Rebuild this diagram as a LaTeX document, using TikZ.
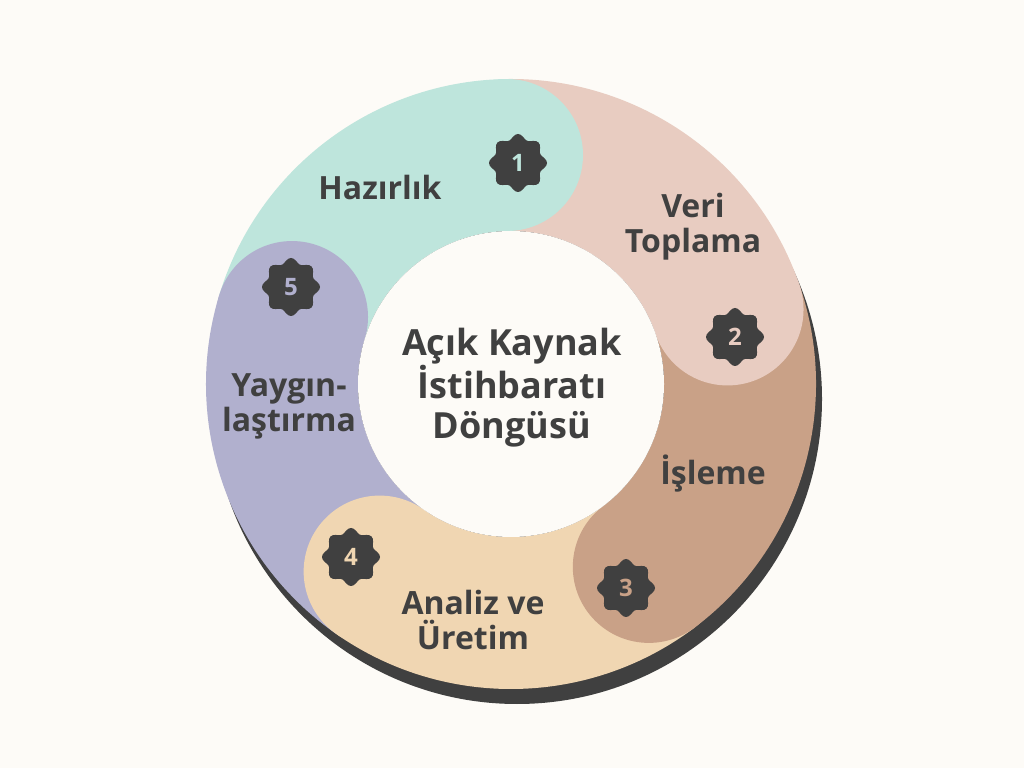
\documentclass[tikz,border=0pt]{standalone}
\usepackage{fontspec}
\setmainfont{Open Sans}
\definecolor{bgcol}{HTML}{FDFBF7}
\definecolor{mint}{HTML}{BEE5DC}
\definecolor{rose}{HTML}{E8CCC1}
\definecolor{clay}{HTML}{C9A187}
\definecolor{sand}{HTML}{F0D6B2}
\definecolor{lilac}{HTML}{B1B0CE}
\definecolor{ink}{HTML}{404040}
\tikzset{
	lbl/.style={text=ink, font=\bfseries\fontsize{32}{35}\selectfont, align=center, inner sep=0pt},
	ttl/.style={text=ink, font=\bfseries\fontsize{36}{40}\selectfont, align=center, inner sep=0pt},
	num/.style={font=\bfseries\fontsize{24}{24}\selectfont, inner sep=0pt},
	seal/.style={fill=ink},
}
\begin{document}
\begin{tikzpicture}[x=1pt,y=1pt]
	\fill[bgcol] (0,0) rectangle (1024,768);
	\useasboundingbox (0,0) rectangle (1024,768);
	\coordinate (O) at (511,384);
	% shadow
	\fill[ink] ([shift={(6,-15)}]O) circle[radius=305];
	% ring
	\begin{scope}[shift={(O)}]
		\fill[mint] (163:305) arc[start angle=163, end angle=91, radius=305] -- (91:153) arc[start angle=91, end angle=163, radius=153] -- cycle;
		\fill[rose] (91:305) arc[start angle=91, end angle=19, radius=305] -- (19:153) arc[start angle=19, end angle=91, radius=153] -- cycle;
		\fill[clay] (19:305) arc[start angle=19, end angle=-53, radius=305] -- (-53:153) arc[start angle=-53, end angle=19, radius=153] -- cycle;
		\fill[sand] (-53:305) arc[start angle=-53, end angle=-125, radius=305] -- (-125:153) arc[start angle=-125, end angle=-53, radius=153] -- cycle;
		\fill[lilac] (-125:305) arc[start angle=-125, end angle=-197, radius=305] -- (-197:153) arc[start angle=-197, end angle=-125, radius=153] -- cycle;
		% heads
		\fill[mint] (91:229) circle[radius=76];
		\fill[rose] (19:229) circle[radius=76];
		\fill[clay] (-53:229) circle[radius=76];
		\fill[sand] (-125:229) circle[radius=76];
		\fill[lilac] (163:229) circle[radius=76];
		\fill[bgcol] (0,0) circle[radius=153];
	\end{scope}
	% badges
	\fill[seal,shift={(518,605)}] plot[domain=0:355,samples=72,smooth cycle] (\x:{26.5+2.5*cos(8*\x)});
	\fill[seal,shift={(735,431)}] plot[domain=0:355,samples=72,smooth cycle] (\x:{26.5+2.5*cos(8*\x)});
	\fill[seal,shift={(626,180)}] plot[domain=0:355,samples=72,smooth cycle] (\x:{26.5+2.5*cos(8*\x)});
	\fill[seal,shift={(351,211)}] plot[domain=0:355,samples=72,smooth cycle] (\x:{26.5+2.5*cos(8*\x)});
	\fill[seal,shift={(291,481)}] plot[domain=0:355,samples=72,smooth cycle] (\x:{26.5+2.5*cos(8*\x)});
	\node[num,text=mint] (n1) at (518,605) {1};
	\node[num,text=rose] (n2) at (735,431) {2};
	\node[num,text=clay] (n3) at (626,180) {3};
	\node[num,text=sand] (n4) at (351,211) {4};
	\node[num,text=lilac] (n5) at (291,481) {5};
	% labels
	\node[ttl] (title) at (512,380) {Açık Kaynak\\İstihbaratı\\Döngüsü};
	\node[lbl,anchor=base] (hazirlik) at (380,568) {Hazırlık};
	\node[lbl] (veri) at (693,541.5) {Veri\\Toplama};
	\node[lbl,anchor=base] (isleme) at (713,283) {İşleme};
	\node[lbl] (analiz) at (473,148) {Analiz ve\\Üretim};
	\node[lbl] (yaygin) at (289,361.5) {Yaygın-\\laştırma};
\end{tikzpicture}
\end{document}
